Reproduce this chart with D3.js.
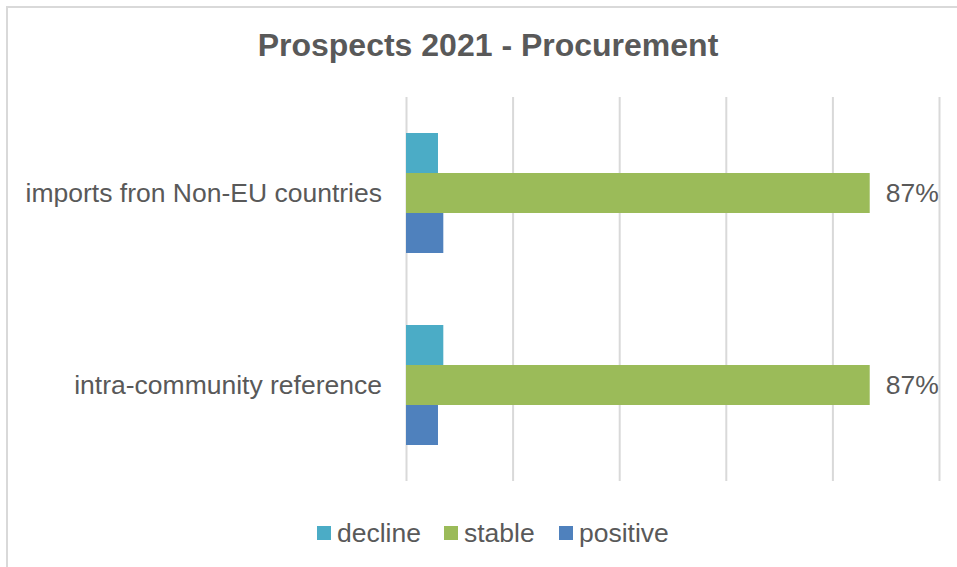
<!DOCTYPE html>
<html lang="en">
<head>
  <meta charset="UTF-8">
  <title>Prospects 2021 - Procurement</title>
  <style>
    body { margin: 0; background: #fff; font-family: "Liberation Sans", Arial, sans-serif; }
    .grid line { stroke: #d9d9d9; stroke-width: 2px; }
    .grid path { display: none; }
  </style>
</head>
<body>
  <svg id="chart" width="957" height="567"></svg>
  <script src="https://cdn.jsdelivr.net/npm/d3@7"></script>
  <script>
    const categories = ["imports fron Non-EU countries", "intra-community reference"];
    const seriesNames = ["decline", "stable", "positive"];
    const decline = [0.06, 0.07];
    const stable = [0.87, 0.87];
    const positive = [0.07, 0.06];
    const xTicks = [0, 0.2, 0.4, 0.6, 0.8, 1.0];

    const colors = { decline: "#4bacc6", stable: "#9bbb59", positive: "#4f81bd" };
    const values = { decline, stable, positive };
    const textColor = "#595959";
    const fontSize = "26.5px";

    const svg = d3.select("#chart");

    // chart frame (only left/top visible in the picture)
    svg.append("rect")
      .attr("x", 7).attr("y", 7)
      .attr("width", 980).attr("height", 600)
      .attr("fill", "none")
      .attr("stroke", "#d9d9d9")
      .attr("stroke-width", 2);

    svg.append("text")
      .attr("x", 488).attr("y", 56)
      .attr("text-anchor", "middle")
      .attr("font-size", "32px")
      .attr("font-weight", "bold")
      .attr("fill", textColor)
      .text("Prospects 2021 - Procurement");

    const x = d3.scaleLinear().domain([0, 1]).range([406, 939]);
    const y = d3.scaleBand().domain(categories).range([97, 481]).padding(0);
    const ySub = d3.scaleBand().domain(seriesNames).range([0, y.bandwidth()])
      .paddingInner(0).paddingOuter(0.9);

    svg.append("g")
      .attr("class", "grid")
      .attr("transform", "translate(0,481)")
      .call(d3.axisBottom(x).tickValues(xTicks).tickSize(-384).tickFormat(""));

    const groups = svg.append("g")
      .selectAll("g")
      .data(categories)
      .join("g")
      .attr("transform", d => `translate(0,${y(d)})`);

    groups.selectAll("rect")
      .data((c, i) => seriesNames.map(s => ({ s, v: values[s][i] })))
      .join("rect")
      .attr("x", x(0))
      .attr("y", d => ySub(d.s))
      .attr("width", d => x(d.v) - x(0))
      .attr("height", ySub.bandwidth())
      .attr("fill", d => colors[d.s]);

    // value labels for stable series
    groups.append("text")
      .attr("x", (c, i) => x(stable[i]) + 16)
      .attr("y", ySub("stable") + ySub.bandwidth() / 2)
      .attr("dy", "0.35em")
      .attr("font-size", fontSize)
      .attr("fill", textColor)
      .text((c, i) => d3.format(".0%")(stable[i]));

    // category labels
    svg.append("g")
      .selectAll("text")
      .data(categories)
      .join("text")
      .attr("x", 382)
      .attr("y", d => y(d) + y.bandwidth() / 2)
      .attr("dy", "0.35em")
      .attr("text-anchor", "end")
      .attr("font-size", fontSize)
      .attr("fill", textColor)
      .text(d => d);

    // legend
    const legendX = [317, 444, 559];
    const legend = svg.append("g")
      .selectAll("g")
      .data(seriesNames)
      .join("g")
      .attr("transform", (d, i) => `translate(${legendX[i]},526)`);
    legend.append("rect")
      .attr("width", 14).attr("height", 14)
      .attr("fill", d => colors[d]);
    legend.append("text")
      .attr("x", 20).attr("y", 7)
      .attr("dy", "0.35em")
      .attr("font-size", fontSize)
      .attr("fill", textColor)
      .text(d => d);
  </script>
</body>
</html>
